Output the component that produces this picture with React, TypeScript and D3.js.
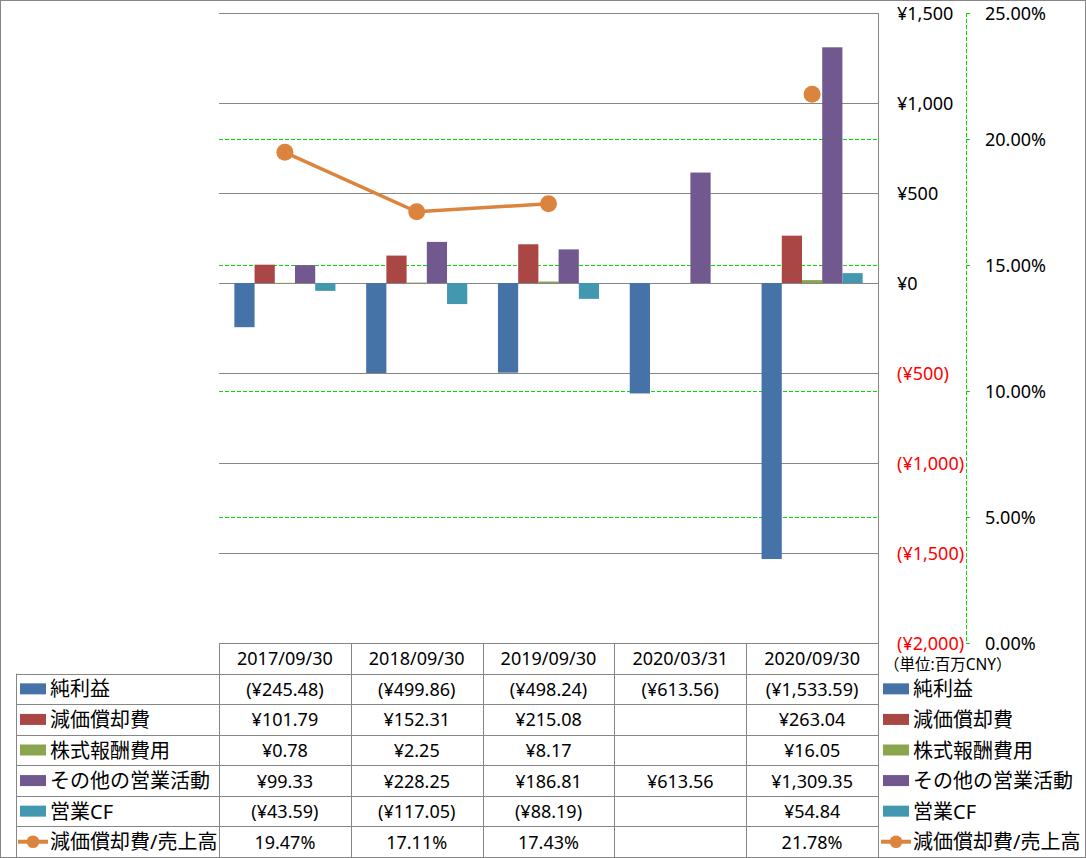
import React from "react";
import * as d3 from "d3";

const categories = ["2017/09/30", "2018/09/30", "2019/09/30", "2020/03/31", "2020/09/30"];
const netIncome: (number | null)[] = [-245.48, -499.86, -498.24, -613.56, -1533.59];
const depreciation: (number | null)[] = [101.79, 152.31, 215.08, null, 263.04];
const stockComp: (number | null)[] = [0.78, 2.25, 8.17, null, 16.05];
const otherOps: (number | null)[] = [99.33, 228.25, 186.81, 613.56, 1309.35];
const operatingCF: (number | null)[] = [-43.59, -117.05, -88.19, null, 54.84];
const depToSales: (number | null)[] = [19.47, 17.11, 17.43, null, 21.78];

const barSeriesNames = ["純利益", "減価償却費", "株式報酬費用", "その他の営業活動", "営業CF"];
const barSeriesValues = [netIncome, depreciation, stockComp, otherOps, operatingCF];
const barColors = ["#4572A7", "#AA4643", "#89A54E", "#71588F", "#4198AF"];
const lineName = "減価償却費/売上高";
const lineColor = "#DB843D";

const primaryTicks = [-2000, -1500, -1000, -500, 0, 500, 1000, 1500];
const secondaryTicks = [0, 5, 10, 15, 20, 25];
const unitLabel = "（単位:百万CNY）";

const W = 1086;
const H = 858;
const plotL = 219;
const plotR = 878;
const plotT = 13;
const plotB = 643;
const rowH = (857 - 643) / 7;
const FONT = "'Noto Sans', 'Noto Sans CJK JP', sans-serif";
const GRID = "#868686";
const GREEN = "#00E000";

const fmtMoney = (v: number) => {
  const s = "¥" + d3.format(",.2f")(Math.abs(v));
  return v < 0 ? `(${s})` : s;
};
const fmtAxis = (v: number) => {
  const s = "¥" + d3.format(",")(Math.abs(v));
  return v < 0 ? `(${s})` : s;
};
const px = (v: number) => Math.round(v) + 0.5;

export default function App() {
  const x0 = d3.scaleBand<string>().domain(categories).range([plotL, plotR]).padding(0);
  const x1 = d3
    .scaleBand<string>()
    .domain(barSeriesNames)
    .range([0, x0.bandwidth()])
    .paddingInner(0)
    .paddingOuter(0.76);
  const y = d3.scaleLinear().domain([-2000, 1500]).range([plotB, plotT]);
  const y2 = d3.scaleLinear().domain([0, 25]).range([plotB, plotT]);

  const cx = (c: string) => (x0(c) ?? 0) + x0.bandwidth() / 2;

  const linePath = d3
    .line<number | null>()
    .defined((d) => d != null)
    .x((_, i) => cx(categories[i]))
    .y((d) => y2(d as number))(depToSales);

  const rowTop = (k: number) => plotB + k * rowH;
  const rowMid = (k: number) => plotB + (k + 0.5) * rowH;

  const tableRows = [
    ...barSeriesValues.map((vals) => vals.map((v) => (v == null ? "" : fmtMoney(v)))),
    depToSales.map((v) => (v == null ? "" : d3.format(".2f")(v) + "%")),
  ];
  const legendItems = [...barSeriesNames, lineName];

  const legendKey = (x: number, k: number, i: number) => {
    const cy = rowMid(k);
    if (i < barSeriesNames.length) {
      return <rect x={x + 2} y={cy - 5.5} width={26} height={11} fill={barColors[i]} />;
    }
    return (
      <g>
        <line x1={x} x2={x + 30} y1={cy} y2={cy} stroke={lineColor} strokeWidth={4} />
        <circle cx={x + 15} cy={cy} r={6.3} fill={lineColor} />
      </g>
    );
  };

  return (
    <svg
      width={W}
      height={H}
      style={{ position: "absolute", left: 0, top: 0, background: "#fff" }}
      fontFamily={FONT}
    >
      <rect x={0} y={0} width={W} height={H} fill="#fff" />

      {/* secondary dashed gridlines */}
      {secondaryTicks
        .filter((t) => t > 0 && t < 25)
        .map((t) => (
          <line
            key={"g2" + t}
            x1={plotL}
            x2={plotR}
            y1={px(y2(t))}
            y2={px(y2(t))}
            stroke={GREEN}
            strokeWidth={1}
            strokeDasharray="4,2"
          />
        ))}
      {/* primary gridlines */}
      {primaryTicks.map((t) => (
        <line key={"g" + t} x1={plotL} x2={plotR} y1={px(y(t))} y2={px(y(t))} stroke={GRID} strokeWidth={1} />
      ))}

      {/* bars */}
      {barSeriesValues.map((vals, si) =>
        vals.map((v, ci) =>
          v == null ? null : (
            <rect
              key={`b${si}-${ci}`}
              x={(x0(categories[ci]) ?? 0) + (x1(barSeriesNames[si]) ?? 0)}
              width={x1.bandwidth()}
              y={Math.min(y(v), y(0))}
              height={Math.max(Math.abs(y(v) - y(0)), 0.6)}
              fill={barColors[si]}
            />
          )
        )
      )}

      {/* line series */}
      <path d={linePath ?? ""} fill="none" stroke={lineColor} strokeWidth={3.5} />
      {depToSales.map((v, i) =>
        v == null ? null : <circle key={"m" + i} cx={cx(categories[i])} cy={y2(v)} r={8.5} fill={lineColor} />
      )}

      {/* plot right border / primary axis line */}
      <line x1={px(plotR)} x2={px(plotR)} y1={plotT} y2={857} stroke={GRID} strokeWidth={1} />

      {/* primary axis labels */}
      {primaryTicks.map((t) => (
        <text
          key={"pl" + t}
          x={897}
          y={y(t)}
          dominantBaseline="central"
          fontSize={18}
          fill={t < 0 ? "#FF0000" : "#000"}
        >
          {fmtAxis(t)}
        </text>
      ))}

      {/* secondary axis */}
      <line x1={966.5} x2={966.5} y1={plotT} y2={plotB} stroke={GREEN} strokeWidth={1} strokeDasharray="4,2" />
      {secondaryTicks.map((t) => (
        <g key={"sl" + t}>
          <line x1={966} x2={970} y1={px(y2(t))} y2={px(y2(t))} stroke={GREEN} strokeWidth={1} />
          <text x={985} y={y2(t)} dominantBaseline="central" fontSize={18} fill="#000">
            {d3.format(".2f")(t) + "%"}
          </text>
        </g>
      ))}

      {/* unit label */}
      <text x={884} y={664} dominantBaseline="central" fontSize={15.5} fill="#000">
        {unitLabel}
      </text>

      {/* data table lines */}
      <line x1={plotL} x2={plotR} y1={px(plotB)} y2={px(plotB)} stroke={GRID} strokeWidth={1} />
      {d3.range(1, 7).map((k) => (
        <line key={"hr" + k} x1={16} x2={plotR} y1={px(rowTop(k))} y2={px(rowTop(k))} stroke={GRID} strokeWidth={1} />
      ))}
      <line x1={16.5} x2={16.5} y1={rowTop(1)} y2={857} stroke={GRID} strokeWidth={1} />
      {categories.map((c) => (
        <line key={"vc" + c} x1={px(x0(c) ?? 0)} x2={px(x0(c) ?? 0)} y1={plotB} y2={857} stroke={GRID} strokeWidth={1} />
      ))}

      {/* header */}
      {categories.map((c) => (
        <text key={"h" + c} x={cx(c)} y={rowMid(0)} textAnchor="middle" dominantBaseline="central" fontSize={18} fill="#000">
          {c}
        </text>
      ))}

      {/* table rows */}
      {tableRows.map((row, ri) => (
        <g key={"r" + ri}>
          {legendKey(18, ri + 1, ri)}
          <text x={50} y={rowMid(ri + 1)} dominantBaseline="central" fontSize={20} fill="#000">
            {legendItems[ri]}
          </text>
          {row.map((t, ci) => (
            <text
              key={"c" + ci}
              x={cx(categories[ci])}
              y={rowMid(ri + 1)}
              textAnchor="middle"
              dominantBaseline="central"
              fontSize={18}
              fill="#000"
            >
              {t}
            </text>
          ))}
        </g>
      ))}

      {/* right legend */}
      {legendItems.map((name, i) => (
        <g key={"lg" + i}>
          {legendKey(881, i + 1, i)}
          <text x={913} y={rowMid(i + 1)} dominantBaseline="central" fontSize={20} fill="#000">
            {name}
          </text>
        </g>
      ))}

      {/* outer border */}
      <rect x={0.5} y={0.5} width={1085} height={857} fill="none" stroke={GRID} strokeWidth={1} />
    </svg>
  );
}
